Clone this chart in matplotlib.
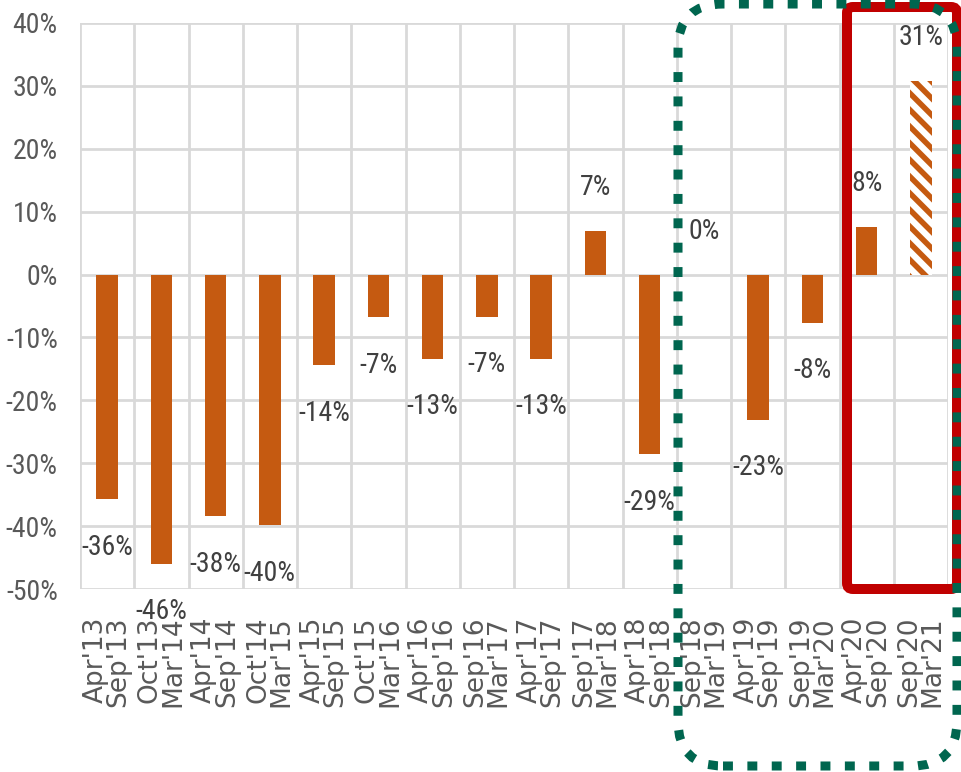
import numpy as np
import matplotlib
matplotlib.use("Agg")
import matplotlib.pyplot as plt
from matplotlib.patches import FancyBboxPatch
from matplotlib import font_manager
from matplotlib.font_manager import FontProperties

# ---- data ----
periods_start = ["Apr'13", "Oct'13", "Apr'14", "Oct'14", "Apr'15", "Oct'15", "Apr'16", "Sep'16",
                 "Apr'17", "Sep'17", "Apr'18", "Sep'18", "Apr'19", "Sep'19", "Apr'20", "Sep'20"]
periods_end = ["Sep'13", "Mar'14", "Sep'14", "Mar'15", "Sep'15", "Mar'16", "Sep'16", "Mar'17",
               "Sep'17", "Mar'18", "Sep'18", "Mar'19", "Sep'19", "Mar'20", "Sep'20", "Mar'21"]
values = [-35.7, -46.0, -38.4, -39.9, -14.4, -6.8, -13.4, -6.7,
          -13.4, 7.0, -28.6, 0.0, -23.1, -7.7, 7.6, 30.8]
hatched = [False] * 15 + [True]
y_ticks = [-50, -40, -30, -20, -10, 0, 10, 20, 30, 40]


# ---- pick a condensed sans font if one is installed ----
def find_condensed():
    cond = ("condensed", "semi-condensed", "extra-condensed", "ultra-condensed")
    prefs = ["Liberation Sans Narrow", "Open Sans", "Roboto", "Noto Sans", "DejaVu Sans", "Lato", "Inter"]
    cands = []
    for f in font_manager.fontManager.ttflist:
        nm = f.name
        is_cond = ("Narrow" in nm or "Condensed" in nm or f.stretch in cond
                   or "Condensed" in f.fname or "Narrow" in f.fname)
        if not is_cond:
            continue
        if f.style != "normal" or "Italic" in f.fname or "Oblique" in f.fname:
            continue
        w = f.weight if isinstance(f.weight, int) else 400
        if w != 400 and "Regular" not in f.fname and not f.fname.endswith("Condensed.ttf") \
                and not f.fname.endswith("Narrow.ttf"):
            continue
        if "Mono" in nm or "Serif" in nm or "CJK" in nm:
            continue
        rank = len(prefs)
        for i, p in enumerate(prefs):
            if nm.startswith(p):
                rank = i
                break
        cands.append((rank, abs(w - 400), f.fname))
    if cands:
        cands.sort()
        return cands[0][2]
    return None


cond_file = find_condensed()


def cfont(size):
    if cond_file:
        return FontProperties(fname=cond_file, size=size)
    return FontProperties(family="Liberation Sans", size=size * 0.85)


ORANGE = "#C55A11"
GRID = "#D9D9D9"
TICK_C = "#595959"
LABEL_C = "#404040"

plt.rcParams["hatch.linewidth"] = 4.0

W, H = 961, 772
fig = plt.figure(figsize=(W / 100, H / 100), dpi=100)
ax = fig.add_axes([80 / W, (H - 589) / H, 868 / W, 566 / H])

x = np.arange(len(values))
labels = [f"{a}\n{b}" for a, b in zip(periods_start, periods_end)]

for xi, v, h in zip(x, values, hatched):
    if h:
        ax.bar(xi, v, width=0.4, color="white", edgecolor=ORANGE, hatch="\\\\", linewidth=0, zorder=2)
    else:
        ax.bar(xi, v, width=0.4, color=ORANGE, linewidth=0, zorder=2)

for xi, v in zip(x, values):
    off = -48 if v < 0 else 43
    ax.annotate(f"{v:.0f}%", (xi, v), xytext=(0, off), textcoords="offset pixels",
                ha="center", va="center", fontproperties=cfont(20), color=LABEL_C,
                annotation_clip=False, zorder=3)

ax.set_xlim(-0.5, len(values) - 0.5)
ax.set_ylim(-50, 40)
ax.set_yticks(y_ticks)
ax.set_yticklabels([f"{t}%" for t in y_ticks], fontproperties=cfont(20), color=TICK_C)
ax.set_xticks(x)
ax.set_xticklabels(labels, rotation=90, ha="center", va="top", multialignment="right",
                   fontsize=19, family="DejaVu Sans", color=TICK_C, linespacing=0.86)
ax.set_xticks(np.arange(-0.5, len(values), 1), minor=True)
ax.tick_params(axis="both", which="both", length=0)
ax.tick_params(axis="x", which="major", pad=20)
ax.tick_params(axis="y", pad=16)
ax.grid(True, axis="y", which="major", color=GRID, linewidth=2)
ax.grid(True, axis="x", which="minor", color=GRID, linewidth=2)
ax.set_axisbelow(True)
for s in ax.spines.values():
    s.set_visible(False)


# highlight boxes (pixel positions -> inches)
def px_box(x0, y_top, x1, y_bot, r, **kw):
    return FancyBboxPatch((x0 / 100, (H - y_bot) / 100), (x1 - x0) / 100, (y_bot - y_top) / 100,
                          boxstyle=f"round,pad=0,rounding_size={r / 100}",
                          transform=fig.dpi_scale_trans, fill=False, clip_on=False, **kw)


fig.add_artist(px_box(847, 7, 957, 589, 6, edgecolor="#C00000", linewidth=7.2, zorder=5))
fig.add_artist(px_box(678, 4, 957, 766, 45, edgecolor="#00664F", linewidth=6.5,
                      linestyle=(0, (1.1, 1.6)), capstyle="butt", zorder=6))

fig.savefig("out.png", dpi=100)
